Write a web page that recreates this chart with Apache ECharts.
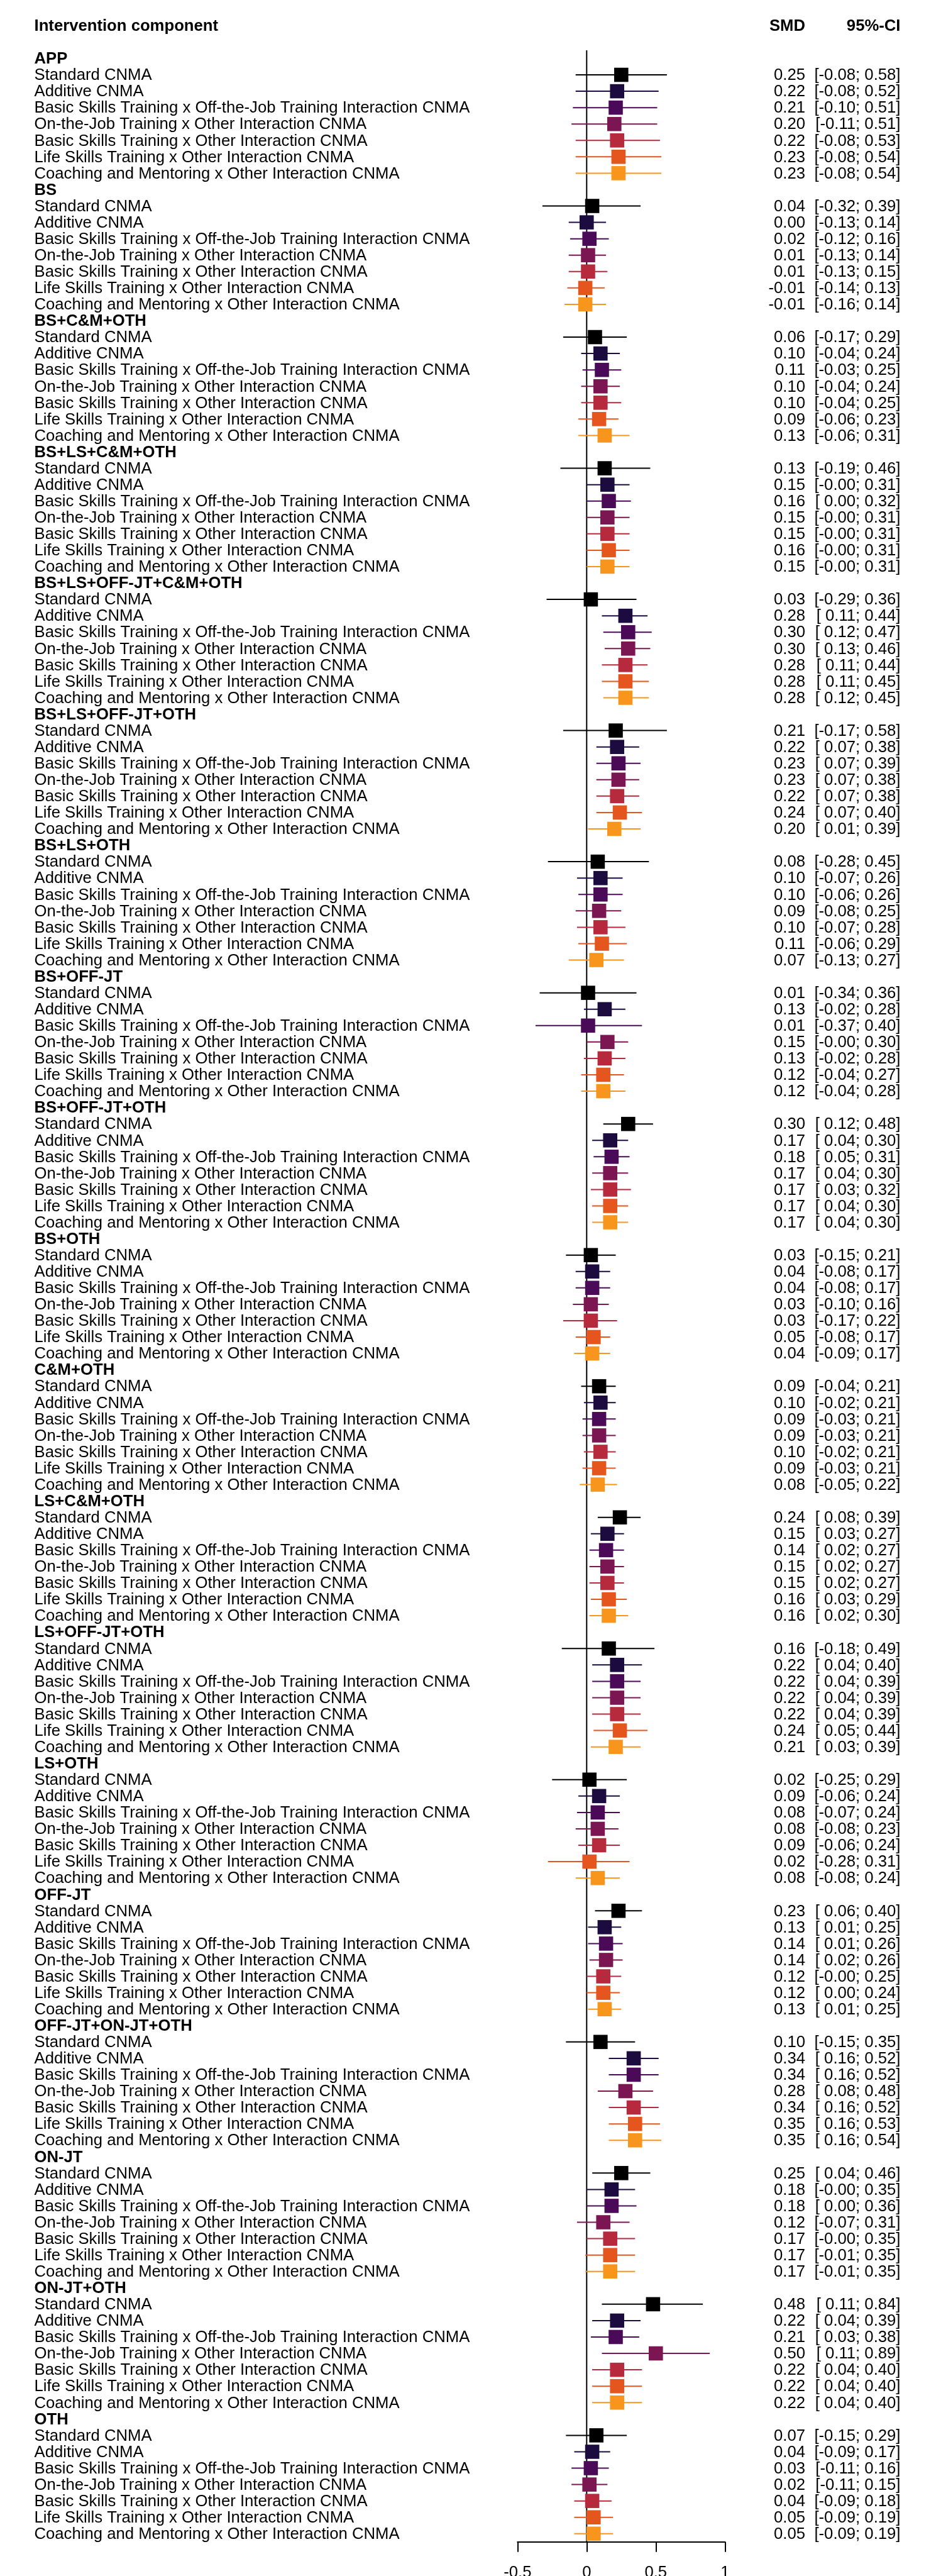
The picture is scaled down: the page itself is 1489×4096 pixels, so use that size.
<!DOCTYPE html>
<html>
<head>
<meta charset="utf-8">
<script src="https://cdn.jsdelivr.net/npm/echarts@6/dist/echarts.min.js"></script>
<style>
  html, body { margin: 0; padding: 0; background: #ffffff; }
  #chart { width: 1489px; height: 4096px; }
</style>
</head>
<body>
<div id="chart"></div>
<script>
// ---------------- data ----------------
const groups = ['APP', 'BS', 'BS+C&M+OTH', 'BS+LS+C&M+OTH', 'BS+LS+OFF-JT+C&M+OTH',
  'BS+LS+OFF-JT+OTH', 'BS+LS+OTH', 'BS+OFF-JT', 'BS+OFF-JT+OTH', 'BS+OTH', 'C&M+OTH',
  'LS+C&M+OTH', 'LS+OFF-JT+OTH', 'LS+OTH', 'OFF-JT', 'OFF-JT+ON-JT+OTH', 'ON-JT',
  'ON-JT+OTH', 'OTH'];

const methods = ['Standard CNMA', 'Additive CNMA',
  'Basic Skills Training x Off-the-Job Training Interaction CNMA',
  'On-the-Job Training x Other Interaction CNMA',
  'Basic Skills Training x Other Interaction CNMA',
  'Life Skills Training x Other Interaction CNMA',
  'Coaching and Mentoring x Other Interaction CNMA'];

const methodColors = ['#000000', '#1C0B3E', '#4B0A57', '#7C1652', '#B7293D', '#E5551E', '#F8951C'];

const xTicks = [-0.5, 0, 0.5, 1];

// SMD per group (rows follow `methods`)
const smd = [
  [0.25, 0.22, 0.21, 0.20, 0.22, 0.23, 0.23],
  [0.04, 0.00, 0.02, 0.01, 0.01, -0.01, -0.01],
  [0.06, 0.10, 0.11, 0.10, 0.10, 0.09, 0.13],
  [0.13, 0.15, 0.16, 0.15, 0.15, 0.16, 0.15],
  [0.03, 0.28, 0.30, 0.30, 0.28, 0.28, 0.28],
  [0.21, 0.22, 0.23, 0.23, 0.22, 0.24, 0.20],
  [0.08, 0.10, 0.10, 0.09, 0.10, 0.11, 0.07],
  [0.01, 0.13, 0.01, 0.15, 0.13, 0.12, 0.12],
  [0.30, 0.17, 0.18, 0.17, 0.17, 0.17, 0.17],
  [0.03, 0.04, 0.04, 0.03, 0.03, 0.05, 0.04],
  [0.09, 0.10, 0.09, 0.09, 0.10, 0.09, 0.08],
  [0.24, 0.15, 0.14, 0.15, 0.15, 0.16, 0.16],
  [0.16, 0.22, 0.22, 0.22, 0.22, 0.24, 0.21],
  [0.02, 0.09, 0.08, 0.08, 0.09, 0.02, 0.08],
  [0.23, 0.13, 0.14, 0.14, 0.12, 0.12, 0.13],
  [0.10, 0.34, 0.34, 0.28, 0.34, 0.35, 0.35],
  [0.25, 0.18, 0.18, 0.12, 0.17, 0.17, 0.17],
  [0.48, 0.22, 0.21, 0.50, 0.22, 0.22, 0.22],
  [0.07, 0.04, 0.03, 0.02, 0.04, 0.05, 0.05]
];

// lower 95%-CI bound (-0 marks a printed "-0.00")
const lower = [
  [-0.08, -0.08, -0.10, -0.11, -0.08, -0.08, -0.08],
  [-0.32, -0.13, -0.12, -0.13, -0.13, -0.14, -0.16],
  [-0.17, -0.04, -0.03, -0.04, -0.04, -0.06, -0.06],
  [-0.19, -0, 0.00, -0, -0, -0, -0],
  [-0.29, 0.11, 0.12, 0.13, 0.11, 0.11, 0.12],
  [-0.17, 0.07, 0.07, 0.07, 0.07, 0.07, 0.01],
  [-0.28, -0.07, -0.06, -0.08, -0.07, -0.06, -0.13],
  [-0.34, -0.02, -0.37, -0, -0.02, -0.04, -0.04],
  [0.12, 0.04, 0.05, 0.04, 0.03, 0.04, 0.04],
  [-0.15, -0.08, -0.08, -0.10, -0.17, -0.08, -0.09],
  [-0.04, -0.02, -0.03, -0.03, -0.02, -0.03, -0.05],
  [0.08, 0.03, 0.02, 0.02, 0.02, 0.03, 0.02],
  [-0.18, 0.04, 0.04, 0.04, 0.04, 0.05, 0.03],
  [-0.25, -0.06, -0.07, -0.08, -0.06, -0.28, -0.08],
  [0.06, 0.01, 0.01, 0.02, -0, 0.00, 0.01],
  [-0.15, 0.16, 0.16, 0.08, 0.16, 0.16, 0.16],
  [0.04, -0, 0.00, -0.07, -0, -0.01, -0.01],
  [0.11, 0.04, 0.03, 0.11, 0.04, 0.04, 0.04],
  [-0.15, -0.09, -0.11, -0.11, -0.09, -0.09, -0.09]
];

// upper 95%-CI bound
const upper = [
  [0.58, 0.52, 0.51, 0.51, 0.53, 0.54, 0.54],
  [0.39, 0.14, 0.16, 0.14, 0.15, 0.13, 0.14],
  [0.29, 0.24, 0.25, 0.24, 0.25, 0.23, 0.31],
  [0.46, 0.31, 0.32, 0.31, 0.31, 0.31, 0.31],
  [0.36, 0.44, 0.47, 0.46, 0.44, 0.45, 0.45],
  [0.58, 0.38, 0.39, 0.38, 0.38, 0.40, 0.39],
  [0.45, 0.26, 0.26, 0.25, 0.28, 0.29, 0.27],
  [0.36, 0.28, 0.40, 0.30, 0.28, 0.27, 0.28],
  [0.48, 0.30, 0.31, 0.30, 0.32, 0.30, 0.30],
  [0.21, 0.17, 0.17, 0.16, 0.22, 0.17, 0.17],
  [0.21, 0.21, 0.21, 0.21, 0.21, 0.21, 0.22],
  [0.39, 0.27, 0.27, 0.27, 0.27, 0.29, 0.30],
  [0.49, 0.40, 0.39, 0.39, 0.39, 0.44, 0.39],
  [0.29, 0.24, 0.24, 0.23, 0.24, 0.31, 0.24],
  [0.40, 0.25, 0.26, 0.26, 0.25, 0.24, 0.25],
  [0.35, 0.52, 0.52, 0.48, 0.52, 0.53, 0.54],
  [0.46, 0.35, 0.36, 0.31, 0.35, 0.35, 0.35],
  [0.84, 0.39, 0.38, 0.89, 0.40, 0.40, 0.40],
  [0.29, 0.17, 0.16, 0.15, 0.18, 0.19, 0.19]
];

// ---------------- layout ----------------
const FONT = '"Liberation Sans", Arial, Helvetica, sans-serif';
const FS = 25.7;
const LABEL_X = 54.5;
const SMD_RIGHT = 1281;
const CI_RIGHT = 1432.5;
const SQ = 22.6;
const TEXT_DY = 1.2;
const ROWS_PER_GROUP = methods.length + 1;
const N_ROWS = groups.length * ROWS_PER_GROUP;

function fmt(v) {
  const neg = v < 0 || Object.is(v, -0);
  return (neg ? '-' : ' ') + Math.abs(v).toFixed(2);
}
function fmtSmd(v) {
  return (v < 0 ? '-' : '') + Math.abs(v).toFixed(2);
}

// rows for the estimate series: [smd, row, lower, upper, methodIndex, groupIndex]
const estRows = [];
const headRows = [];
groups.forEach(function (g, gi) {
  const base = gi * ROWS_PER_GROUP;
  headRows.push([0, base, gi]);
  methods.forEach(function (m, mi) {
    estRows.push([smd[gi][mi], base + 1 + mi, lower[gi][mi], upper[gi][mi], mi, gi]);
  });
});

function txt(x, y, s, align, bold) {
  return {
    type: 'text', x: x, y: y + TEXT_DY, silent: true,
    style: {
      text: s, fill: '#000000', fontSize: FS, fontFamily: FONT,
      fontWeight: bold ? 'bold' : 'normal', align: align, verticalAlign: 'middle'
    }
  };
}

const chart = echarts.init(document.getElementById('chart'), null, { renderer: 'canvas' });

chart.setOption({
  animation: false,
  backgroundColor: '#ffffff',
  grid: {
    left: 823.3, right: 335.7, top: 79.9, bottom: 54.2,
    containLabel: false, outerBoundsMode: 'none'
  },
  xAxis: {
    type: 'value', min: xTicks[0], max: xTicks[xTicks.length - 1], interval: 0.5,
    position: 'bottom',
    axisLine: { show: true, onZero: false, lineStyle: { color: '#000000', width: 2.2 } },
    axisTick: { show: true, inside: false, length: 16, lineStyle: { color: '#000000', width: 2 } },
    axisLabel: {
      show: true, color: '#000000', fontSize: FS, fontFamily: FONT, margin: 36,
      formatter: function (v) { return String(v); }
    },
    splitLine: { show: false }
  },
  yAxis: {
    type: 'value', inverse: true, min: -0.5, max: N_ROWS - 0.5, show: false
  },
  series: [
    {
      name: 'zero',
      type: 'line',
      data: [[0, -0.5], [0, N_ROWS - 0.5]],
      symbol: 'none',
      lineStyle: { color: '#000000', width: 2 },
      silent: true,
      z: 1
    },
    {
      name: 'estimates',
      type: 'custom',
      data: estRows,
      encode: { x: [0, 2, 3], y: 1 },
      z: 3,
      renderItem: function (params, api) {
        const row = api.value(1);
        const mi = api.value(4);
        const p = api.coord([api.value(0), row]);
        const a = api.coord([api.value(2), row]);
        const b = api.coord([api.value(3), row]);
        const col = methodColors[mi];
        return {
          type: 'group',
          children: [
            { type: 'line', shape: { x1: a[0], y1: a[1], x2: b[0], y2: b[1] },
              style: { stroke: col, lineWidth: 2 } },
            { type: 'rect', shape: { x: p[0] - SQ / 2, y: p[1] - SQ / 2, width: SQ, height: SQ },
              style: { fill: col } },
            txt(LABEL_X, p[1], methods[mi], 'left', false),
            txt(SMD_RIGHT, p[1], fmtSmd(api.value(0)), 'right', false),
            txt(CI_RIGHT, p[1], '[' + fmt(lower[api.value(5)][mi]) + ';' + fmt(upper[api.value(5)][mi]) + ']', 'right', false)
          ]
        };
      }
    },
    {
      name: 'groups',
      type: 'custom',
      data: headRows,
      encode: { x: 0, y: 1 },
      z: 3,
      renderItem: function (params, api) {
        const p = api.coord([0, api.value(1)]);
        return txt(LABEL_X, p[1], groups[api.value(2)], 'left', true);
      }
    },
    {
      name: 'header',
      type: 'custom',
      data: [[0, -2]],
      encode: { x: 0, y: 1 },
      z: 3,
      clip: false,
      renderItem: function (params, api) {
        const p = api.coord([0, api.value(1)]);
        return {
          type: 'group',
          children: [
            txt(LABEL_X, p[1], 'Intervention component', 'left', true),
            txt(SMD_RIGHT, p[1], 'SMD', 'right', true),
            txt(CI_RIGHT, p[1], '95%-CI', 'right', true)
          ]
        };
      }
    }
  ]
});
</script>
</body>
</html>
